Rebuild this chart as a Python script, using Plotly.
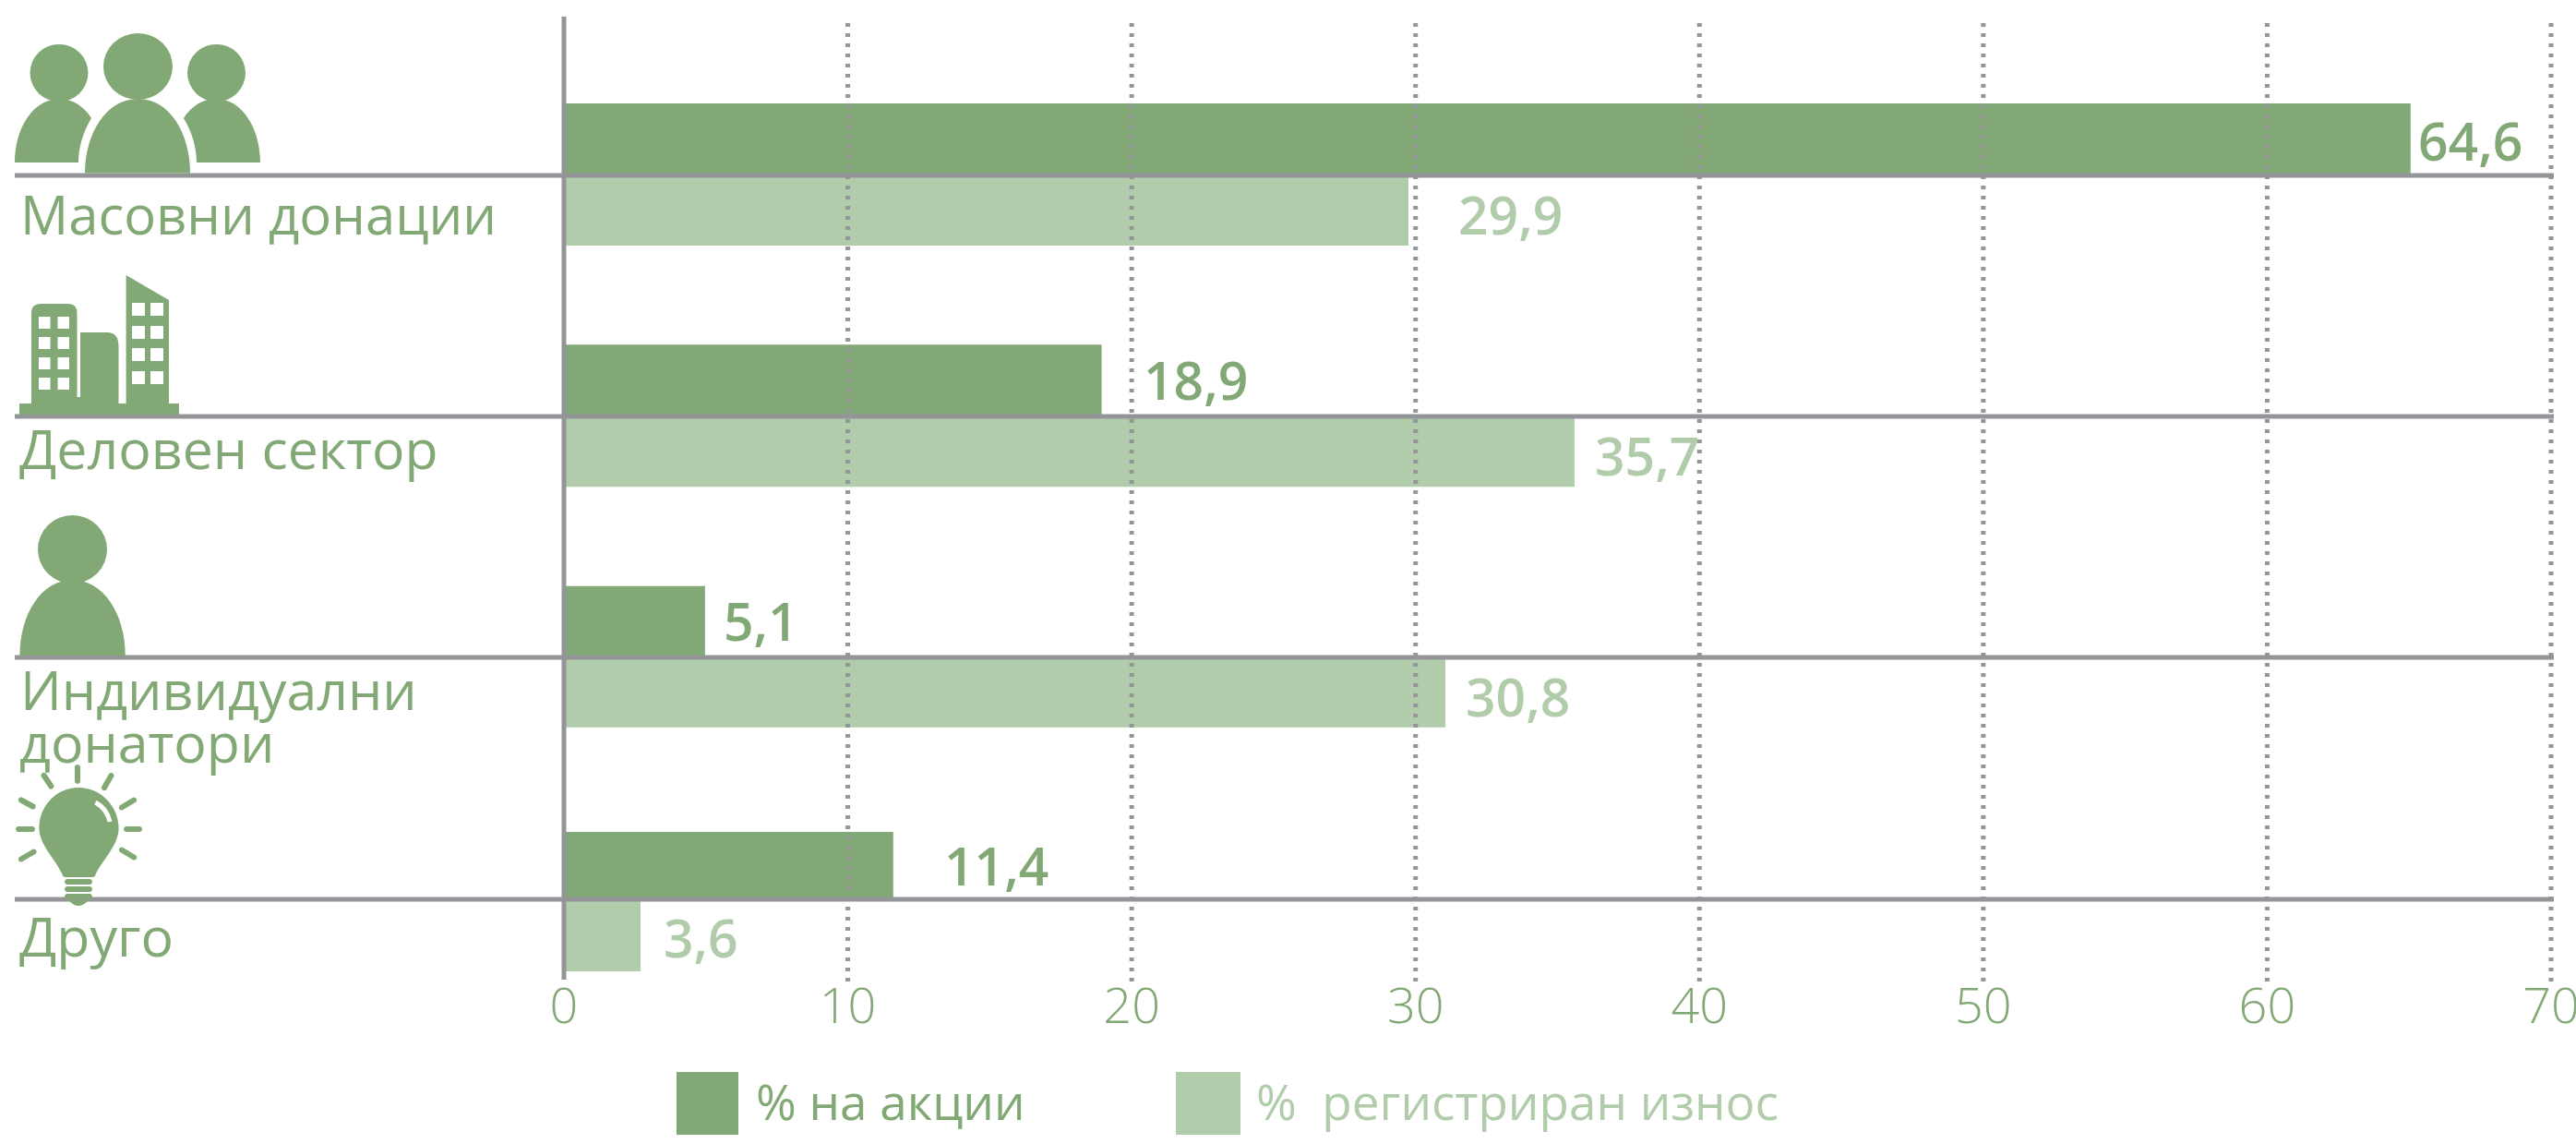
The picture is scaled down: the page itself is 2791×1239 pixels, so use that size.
import re
import math
import plotly.graph_objects as go

# ---------- data ----------
categories = ["Масовни донации", "Деловен сектор", "Индивидуални донатори", "Друго"]
actions_share = [65.05, 18.94, 4.97, 11.6]      # drawn bar lengths
amount_share = [29.75, 35.6, 31.05, 2.7]
actions_labels = ["64,6", "18,9", "5,1", "11,4"]  # printed values
amount_labels = ["29,9", "35,7", "30,8", "3,6"]
tick_values = [0, 10, 20, 30, 40, 50, 60, 70]
series_names = ["% на акции", "%  регистриран износ"]

# ---------- style / layout ----------
W, H = 2791, 1239
L, R, T, B = 611, 2764, 23, 1063
DARK, LIGHT, GREY = "#82A975", "#B1CCAB", "#939598"
FONT = "Open Sans"
ROW = 261.33
LINES = [190, 451, 712, 974]
DARK_H = [78, 78, 78, 73]
LIGHT_H = [76, 76, 75, 78]


def xp(px):
    return (px - L) / (R - L)


def yp(py):
    return 1 - (py - T) / (B - T)


def path(s):
    """Absolute-pixel SVG path to paper coordinates."""
    out, is_x = [], True
    for tok in re.findall(r"[MLCQZ]|-?\d+\.?\d*", s):
        if tok in "MLCQZ":
            out.append(tok)
            is_x = True
        else:
            v = float(tok)
            out.append(f"{xp(v):.5f}" if is_x else f"{yp(v):.5f}")
            is_x = not is_x
    res = ""
    i = 0
    while i < len(out):
        if out[i] in "MLCQZ":
            res += out[i]
            i += 1
        else:
            res += out[i] + "," + out[i + 1] + " "
            i += 2
    return res


def icon(s, color=DARK):
    return dict(type="path", xref="paper", yref="paper", path=path(s), fillcolor=color,
                line=dict(width=0), fillrule="evenodd", layer="above")


def ellipse(cx, cy, rx, ry):
    return dict(type="circle", xref="paper", yref="paper", x0=xp(cx - rx), x1=xp(cx + rx),
                y0=yp(cy + ry), y1=yp(cy - ry), fillcolor=DARK, line=dict(width=0), layer="above")


def pill(x1, y1, x2, y2, w=6, color=DARK):
    d = math.hypot(x2 - x1, y2 - y1)
    ux, uy = (x2 - x1) / d, (y2 - y1) / d
    nx, ny = -uy * w / 2, ux * w / 2
    e = w * 0.7
    return icon(
        f"M{x1+nx:.2f},{y1+ny:.2f} L{x2+nx:.2f},{y2+ny:.2f} "
        f"Q{x2+ux*e:.2f},{y2+uy*e:.2f} {x2-nx:.2f},{y2-ny:.2f} "
        f"L{x1-nx:.2f},{y1-ny:.2f} Q{x1-ux*e:.2f},{y1-uy*e:.2f} {x1+nx:.2f},{y1+ny:.2f} Z",
        color)


def text(s, left, baseline, size, color=DARK, weight=400):
    return dict(text=s, xref="paper", yref="paper", x=xp(left), y=yp(baseline + 0.293 * size),
                xanchor="left", yanchor="bottom", showarrow=False, borderpad=0, borderwidth=0,
                font=dict(family=FONT, size=size, color=color, weight=weight))


def windows(xs, ys, w, h):
    return " ".join(f"M{x},{y} L{x+w},{y} L{x+w},{y+h} L{x},{y+h} Z" for y in ys for x in xs)


shapes = []

# grid, above the bars as in the reference (paper-referenced so 70 is not clipped)
for t in tick_values[1:]:
    shapes.append(dict(type="line", xref="paper", yref="paper", x0=t / tick_values[-1],
                       x1=t / tick_values[-1], y0=0, y1=1,
                       line=dict(color=GREY, width=5, dash="4px,7px"), layer="above"))
# category rules and the zero axis
for ly in LINES:
    shapes.append(dict(type="line", xref="paper", yref="paper", x0=xp(16), x1=xp(2767),
                       y0=yp(ly), y1=yp(ly), line=dict(color=GREY, width=5), layer="above"))
shapes.append(dict(type="line", xref="paper", yref="paper", x0=0, x1=0, y0=yp(1061), y1=yp(18),
                   line=dict(color=GREY, width=5), layer="above"))

# icon: crowd
shapes += [ellipse(64, 79, 31.5, 31), ellipse(149.5, 72, 37.5, 36), ellipse(234.5, 79, 31.5, 31)]
shapes.append(icon("M16,176 C16,140 35,107 65,107 C78,107 91,115 99,128 C90,143 85,160 85,176 Z"))
shapes.append(icon("M92,187.5 C92,145 115,107 149.5,107 C184,107 206,145 206,187.5 Z"))
shapes.append(icon("M199,128 C207,115 220,107 234,107 C263,107 282,140 282,176 L213,176 C213,160 208,143 199,128 Z"))

# icon: buildings
shapes.append(icon(
    "M21,449 L21,437 L34,437 L34,339 Q34,329 44,329 L74,329 Q83.5,329 83.5,339 L83.5,430 L87,430 "
    "L87,360 L116,360 Q128.5,360 128.5,375 L128.5,437 L136.6,437 L136.6,298 L183,325 L183,437 "
    "L194,437 L194,449 Z "
    + windows([42, 62.5], [343, 365, 387, 409], 12.5, 13) + " "
    + windows([143, 163], [328, 353, 377, 402], 14, 14)))

# icon: single person
shapes.append(ellipse(78.5, 595, 37.5, 37))
shapes.append(icon("M21.4,710 C21.4,665 45,628 78.5,628 C112,628 135.7,665 135.7,710 Z"))

# icon: light bulb
shapes.append(icon(
    "M85,853 C109,853 128.6,873 128.6,897 C128.6,915 112,930 103.5,947 Q103,950 100,950 L71,950 "
    "Q68,950 67.5,947 C60,930 42.4,915 42.4,897 C42.4,873 61,853 85,853 Z"))
for by in (955, 963, 971):
    shapes.append(pill(72, by, 98, by, 6))
shapes.append(icon("M74,975 L96,975 Q90,981 85,981 Q80,981 74,975 Z"))
for ray in [(84, 830, 84, 847), (47, 839, 56, 852.5), (121, 839, 112.5, 854),
            (22, 866, 36.6, 874), (146, 866, 131, 875), (19, 898, 36, 898),
            (136, 898, 152, 898), (22, 931, 37.5, 922), (131, 920, 146, 929)]:
    shapes.append(pill(*ray))
shapes.append(dict(type="path", xref="paper", yref="paper",
                   path=path("M103.5,869 Q116,876 119,890"),
                   line=dict(color="white", width=5), layer="above"))

# legend swatches
shapes.append(dict(type="rect", xref="paper", yref="paper", x0=xp(733), x1=xp(800),
                   y0=yp(1229), y1=yp(1161), fillcolor=DARK, line=dict(width=0)))
shapes.append(dict(type="rect", xref="paper", yref="paper", x0=xp(1274), x1=xp(1344),
                   y0=yp(1229), y1=yp(1161), fillcolor=LIGHT, line=dict(width=0)))

annotations = [
    text("Масовни донации", 22, 254, 58),
    text("Деловен сектор", 21, 507.5, 59),
    text("Индивидуални", 22, 768.5, 59),
    text("донатори", 21, 826, 59),
    text("Друго", 21, 1036, 59),
    text(series_names[0], 819, 1213, 53),
    text(series_names[1], 1361, 1213, 53, LIGHT),
]
DARK_LABEL_POS = [(2620, 174), (1239, 433), (784, 694), (1023, 959)]
LIGHT_LABEL_POS = [(1580, 254.5), (1728, 515), (1588, 776), (719, 1037)]
for s, (lx, ly) in zip(actions_labels, DARK_LABEL_POS):
    annotations.append(text(s, lx, ly, 57, DARK, 600))
for s, (lx, ly) in zip(amount_labels, LIGHT_LABEL_POS):
    annotations.append(text(s, lx, ly, 57, LIGHT, 600))

rows = list(range(len(categories)))
fig = go.Figure()
fig.add_bar(orientation="h", y=rows, x=actions_share, name=series_names[0], marker_color=DARK,
            marker_line_width=0, offset=[-h / ROW for h in DARK_H], width=[h / ROW for h in DARK_H],
            hovertext=categories)
fig.add_bar(orientation="h", y=rows, x=amount_share, name=series_names[1], marker_color=LIGHT,
            marker_line_width=0, offset=[0] * 4, width=[h / ROW for h in LIGHT_H],
            hovertext=categories)

fig.update_layout(
    width=W, height=H, autosize=False, showlegend=False, barmode="overlay",
    paper_bgcolor="white", plot_bgcolor="white",
    margin=dict(l=L, r=W - R, t=T, b=H - B, pad=0, autoexpand=False),
    shapes=shapes, annotations=annotations,
    xaxis=dict(range=[0, 70], tickvals=tick_values, ticktext=[str(t) for t in tick_values],
               showgrid=False, zeroline=False, showline=False, ticks="", automargin=False,
               ticklabeloverflow="allow", ticklabelstandoff=-10,
               tickfont=dict(family=FONT, size=54, color=DARK, weight=300)),
    yaxis=dict(range=[(B - LINES[0]) / ROW, (T - LINES[0]) / ROW], showgrid=False, automargin=False,
               zeroline=False, showline=False, showticklabels=False, ticks=""),
)

fig.write_html("out.html", config=dict(displayModeBar=False),
               post_script="document.body.style.margin='0';document.body.style.overflow='hidden';")
